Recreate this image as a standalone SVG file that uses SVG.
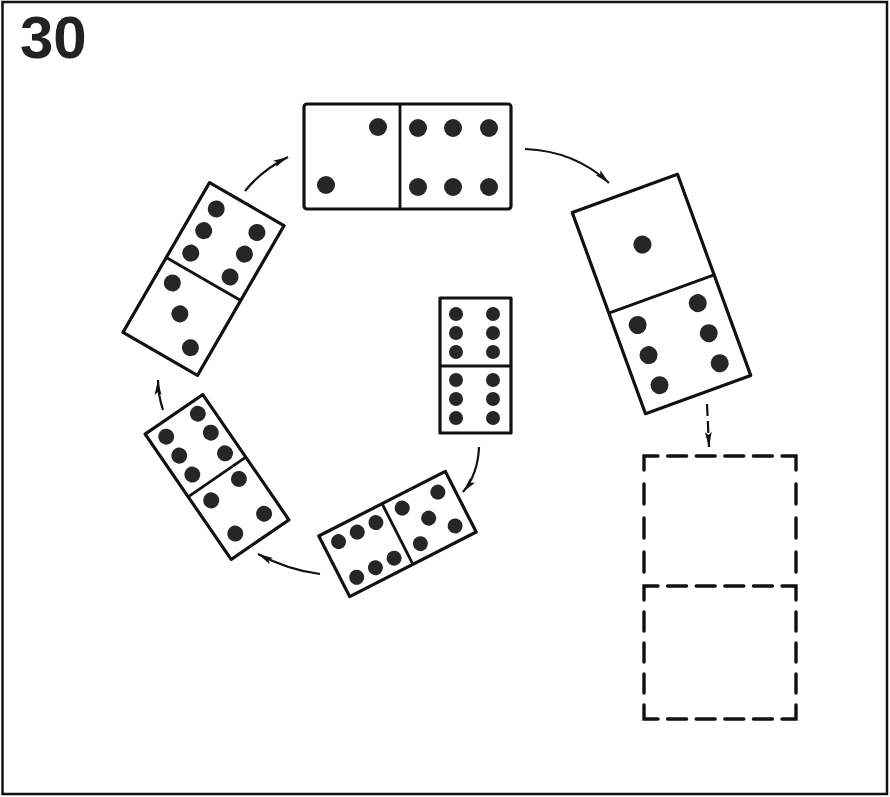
<svg xmlns="http://www.w3.org/2000/svg" width="890" height="797" viewBox="0 0 890 797">
<defs>
<style>
.dom{fill:#fff;stroke:#111;stroke-width:3.2;stroke-linejoin:round}
.div{stroke:#111;stroke-width:2.8;fill:none}
.pip{fill:#262626}
.dash{fill:none;stroke:#111;stroke-width:3.4;stroke-linecap:round}
.dh{stroke-dasharray:19 9.6}
.dv1{stroke-dasharray:20 14}
.dv2{stroke-dasharray:19 12}
.arr{fill:none;stroke:#111;stroke-width:2.2;marker-end:url(#ah)}
</style>
<marker id="ah" markerUnits="userSpaceOnUse" markerWidth="18" markerHeight="10" refX="15" refY="4" orient="auto">
<path d="M0,0.6 L15,4 L0,7.4 L3,4 z" fill="#111"/>
</marker>
</defs>
<rect x="0" y="0" width="890" height="797" fill="#fff"/>
<rect x="2.5" y="2" width="884.5" height="792" fill="none" stroke="#111" stroke-width="2.5"/>
<text x="20" y="58" font-family="Liberation Sans, Arial, sans-serif" font-weight="bold" font-size="60" fill="#222">30</text>

<g id="connectors">
<path class="arr" d="M525,149 Q575,151 609,183"/>
<path class="arr" d="M707,404 L709,447" stroke-dasharray="12 5"/>
<path class="arr" d="M479,447 Q478,474 463,492"/>
<path class="arr" d="M320,574 Q288,570 258,554"/>
<path class="arr" d="M163,410 Q158,395 158,380"/>
<path class="arr" d="M245,191 Q262,170 288,157"/>
</g>

<g id="domino-top">
<rect class="dom" x="304" y="104" width="207" height="105" rx="3"/>
<line class="div" x1="400" y1="104" x2="400" y2="209"/>
<circle class="pip" cx="378" cy="127" r="9"/>
<circle class="pip" cx="326" cy="185" r="9"/>
<circle class="pip" cx="418" cy="128" r="9"/>
<circle class="pip" cx="453" cy="128" r="9"/>
<circle class="pip" cx="489" cy="128" r="9"/>
<circle class="pip" cx="418" cy="187" r="9"/>
<circle class="pip" cx="453" cy="187" r="9"/>
<circle class="pip" cx="489" cy="187" r="9"/>
</g>

<g id="domino-right" transform="translate(661.5,294) rotate(-20)">
<rect class="dom" x="-56" y="-107" width="112" height="214"/>
<line class="div" x1="-56" y1="0" x2="56" y2="0"/>
<circle class="pip" cx="-1" cy="-53" r="9"/>
<circle class="pip" cx="-33" cy="21" r="9"/>
<circle class="pip" cx="-33" cy="53" r="9"/>
<circle class="pip" cx="-33" cy="85" r="9"/>
<circle class="pip" cx="31" cy="21" r="9"/>
<circle class="pip" cx="31" cy="53" r="9"/>
<circle class="pip" cx="31" cy="85" r="9"/>
</g>

<g id="domino-center">
<rect class="dom" x="440" y="298" width="71" height="135"/>
<line class="div" x1="440" y1="366" x2="511" y2="366"/>
<circle class="pip" cx="456" cy="314" r="7"/>
<circle class="pip" cx="456" cy="333" r="7"/>
<circle class="pip" cx="456" cy="352" r="7"/>
<circle class="pip" cx="493" cy="314" r="7"/>
<circle class="pip" cx="493" cy="333" r="7"/>
<circle class="pip" cx="493" cy="352" r="7"/>
<circle class="pip" cx="456" cy="380" r="7"/>
<circle class="pip" cx="456" cy="399" r="7"/>
<circle class="pip" cx="456" cy="418" r="7"/>
<circle class="pip" cx="493" cy="380" r="7"/>
<circle class="pip" cx="493" cy="399" r="7"/>
<circle class="pip" cx="493" cy="418" r="7"/>
</g>

<g id="domino-bottom" transform="translate(397.5,534) rotate(-27)">
<rect class="dom" x="-71" y="-34" width="142" height="68"/>
<line class="div" x1="0" y1="-34" x2="0" y2="34"/>
<circle class="pip" cx="-56" cy="-20" r="7.5"/>
<circle class="pip" cx="-35" cy="-20" r="7.5"/>
<circle class="pip" cx="-14" cy="-20" r="7.5"/>
<circle class="pip" cx="-56" cy="20" r="7.5"/>
<circle class="pip" cx="-35" cy="20" r="7.5"/>
<circle class="pip" cx="-14" cy="20" r="7.5"/>
<circle class="pip" cx="16" cy="-21" r="7.5"/>
<circle class="pip" cx="55" cy="-19" r="7.5"/>
<circle class="pip" cx="35" cy="0" r="7.5"/>
<circle class="pip" cx="16" cy="19" r="7.5"/>
<circle class="pip" cx="55" cy="19" r="7.5"/>
</g>

<g id="domino-left-bottom" transform="translate(217,477) rotate(-34.5)">
<rect class="dom" x="-35" y="-76" width="70" height="152"/>
<line class="div" x1="-35" y1="0" x2="35" y2="0"/>
<circle class="pip" cx="-19" cy="-62" r="8"/>
<circle class="pip" cx="-19" cy="-39" r="8"/>
<circle class="pip" cx="-19" cy="-16" r="8"/>
<circle class="pip" cx="20" cy="-63" r="8"/>
<circle class="pip" cx="20" cy="-40" r="8"/>
<circle class="pip" cx="20" cy="-15" r="8"/>
<circle class="pip" cx="17" cy="14" r="8"/>
<circle class="pip" cx="-18" cy="16" r="8"/>
<circle class="pip" cx="18" cy="57" r="8"/>
<circle class="pip" cx="-17" cy="57" r="8"/>
</g>

<g id="domino-left-top" transform="translate(203.5,279) rotate(30)">
<rect class="dom" x="-43" y="-86.5" width="86" height="173"/>
<line class="div" x1="-43" y1="0" x2="43" y2="0"/>
<circle class="pip" cx="-24" cy="-67" r="8.5"/>
<circle class="pip" cx="-24" cy="-42" r="8.5"/>
<circle class="pip" cx="-24" cy="-16" r="8.5"/>
<circle class="pip" cx="23" cy="-67" r="8.5"/>
<circle class="pip" cx="23" cy="-42" r="8.5"/>
<circle class="pip" cx="22" cy="-15" r="8.5"/>
<circle class="pip" cx="-25" cy="19" r="8.5"/>
<circle class="pip" cx="-3" cy="42" r="8.5"/>
<circle class="pip" cx="23" cy="66" r="8.5"/>
</g>

<g id="domino-dashed">
<path class="dash" d="M644,470 L644,456 L658,456"/>
<line class="dash dh" x1="667.6" y1="456" x2="772.4" y2="456"/>
<path class="dash" d="M782,456 L796,456 L796,470"/>
<line class="dash dv1" x1="644" y1="484" x2="644" y2="572"/>
<line class="dash dv1" x1="796" y1="484" x2="796" y2="572"/>
<path class="dash" d="M644,600 L644,586 L658,586"/>
<line class="dash dh" x1="667.6" y1="586" x2="772.4" y2="586"/>
<path class="dash" d="M782,586 L796,586 L796,600"/>
<line class="dash dv2" x1="644" y1="612" x2="644" y2="693"/>
<line class="dash dv2" x1="796" y1="612" x2="796" y2="693"/>
<path class="dash" d="M644,705 L644,719 L658,719"/>
<line class="dash dh" x1="667.6" y1="719" x2="772.4" y2="719"/>
<path class="dash" d="M782,719 L796,719 L796,705"/>
</g>
</svg>
